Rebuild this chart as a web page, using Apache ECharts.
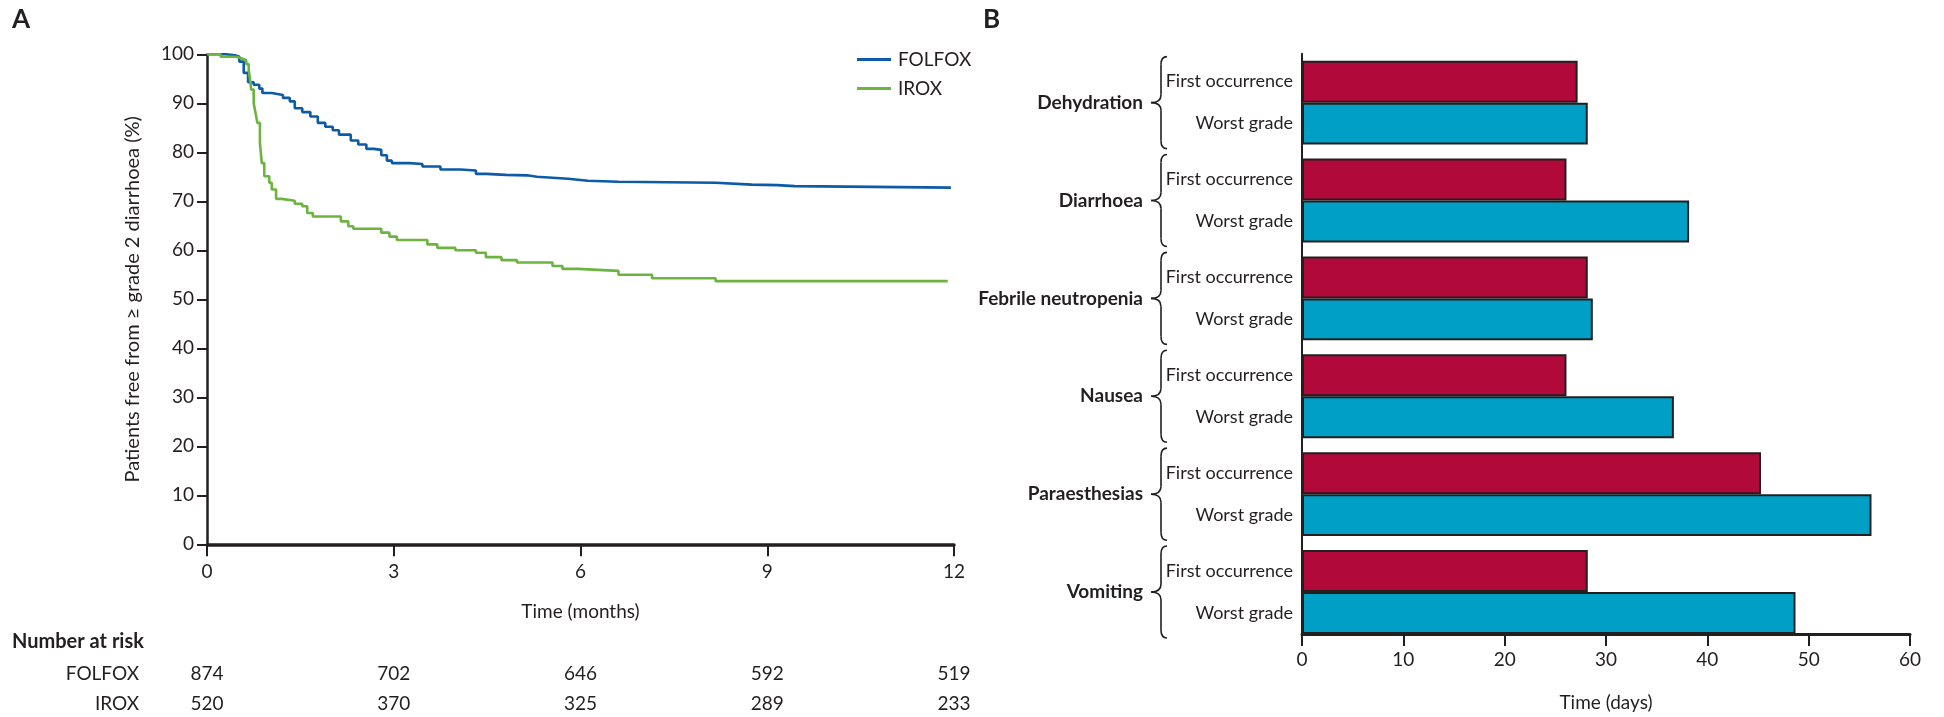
<!DOCTYPE html>
<html><head><meta charset="utf-8">
<script src="https://cdn.jsdelivr.net/npm/echarts@6/dist/echarts.min.js"></script>
<style>html,body{margin:0;padding:0;background:#fff}#c{width:1944px;height:717px}</style>
</head><body><div id="c"></div>
<script>
// ---- Panel A data (Kaplan-Meier) ----
const folfoxTime = [0, 0.3, 0.45, 0.52, 0.59, 0.66, 0.75, 0.84, 0.89, 1.04, 1.22, 1.33, 1.41, 1.53, 1.66, 1.78, 1.9, 2.02, 2.12, 2.31, 2.43, 2.56, 2.68, 2.8, 2.89, 2.97, 3.25, 3.46, 3.75, 4.07, 4.32, 4.48, 4.8, 5.14, 5.3, 5.8, 6.12, 6.61, 8.17, 8.75, 9.16, 9.44, 11.95];
const folfoxSurv = [100, 99.8, 99.5, 98.5, 96.2, 94.3, 93.8, 93, 92.1, 91.7, 91.1, 90.4, 89.0, 88.2, 87.3, 86.0, 85.2, 84.5, 83.6, 82.4, 81.6, 80.7, 80.5, 79.4, 78.3, 77.8, 77.6, 77.1, 76.5, 76.3, 75.6, 75.4, 75.3, 75.0, 74.6, 74.2, 74.0, 73.8, 73.4, 73.3, 73.1, 72.8, 72.8];
const iroxTime = [0, 0.22, 0.47, 0.55, 0.63, 0.67, 0.69, 0.71, 0.75, 0.78, 0.81, 0.85, 0.88, 0.92, 1.0, 1.04, 1.11, 1.2, 1.41, 1.53, 1.61, 1.7, 2.15, 2.27, 2.35, 2.8, 2.93, 3.05, 3.54, 3.7, 3.99, 4.32, 4.48, 4.73, 4.98, 5.55, 5.71, 5.96, 6.61, 7.15, 8.17, 11.9];
const iroxSurv = [100, 99.5, 99.2, 98.8, 98, 96.9, 95, 92.8, 90, 88, 86, 81.9, 77.8, 75.1, 73.8, 72.4, 70.5, 70.1, 69.5, 69, 67.6, 66.9, 65.9, 64.9, 64.4, 63.6, 62.8, 62.1, 61.2, 60.5, 60, 59.5, 58.6, 58, 57.5, 56.8, 56.2, 55.8, 55, 54.3, 53.7, 53.7];
const riskTimes = [0, 3, 6, 9, 12];
const folfoxRisk = [874, 702, 646, 592, 519];
const iroxRisk = [520, 370, 325, 289, 233];

// ---- Panel B data ----
const categories = ['Dehydration', 'Diarrhoea', 'Febrile neutropenia', 'Nausea', 'Paraesthesias', 'Vomiting'];
const firstOccurrence = [27.2, 26.1, 28.2, 26.1, 45.3, 28.2];
const worstGrade = [28.2, 38.2, 28.7, 36.7, 56.2, 48.7];

const INK = '#231f20';
const FONT = 'Lato, "Liberation Sans", sans-serif';

const chart = echarts.init(document.getElementById('c'), null, {renderer: 'canvas'});

function zip(a, b) { return a.map((v, i) => [v, b[i]]); }

const option = {
  animation: false,
  backgroundColor: '#fff',
  textStyle: {fontFamily: FONT, color: INK},
  grid: [
    {left: 207, top: 54.3, width: 747, height: 490},
    {left: 1302, top: 53.7, width: 608, height: 588}
  ],
  legend: {
    data: ['FOLFOX', 'IROX'], orient: 'vertical', left: 857, top: 50, padding: 0,
    itemWidth: 34, itemHeight: 3, itemGap: 10, icon: 'rect',
    textStyle: {fontFamily: FONT, fontSize: 19, color: INK, padding: [0, 0, 0, 2]}
  },
  xAxis: [
    {gridIndex: 0, type: 'value', min: 0, max: 12, interval: 3,
     axisLine: {show: true, onZero: false, lineStyle: {color: INK, width: 3.5}},
     axisTick: {show: true, length: 12, lineStyle: {color: INK, width: 2}},
     axisLabel: {margin: 18, fontFamily: FONT, fontSize: 19, color: INK},
     splitLine: {show: false},
     name: 'Time (months)', nameLocation: 'middle', nameGap: 58,
     nameTextStyle: {fontFamily: FONT, fontSize: 19, color: INK}},
    {gridIndex: 1, type: 'value', min: 0, max: 60, interval: 10, offset: -7,
     axisLine: {show: true, onZero: false, lineStyle: {color: INK, width: 3}},
     axisTick: {show: true, length: 12, lineStyle: {color: INK, width: 2}},
     axisLabel: {margin: 16, fontFamily: FONT, fontSize: 19, color: INK},
     splitLine: {show: false},
     name: 'Time (days)', nameLocation: 'middle', nameGap: 59,
     nameTextStyle: {fontFamily: FONT, fontSize: 19, color: INK}}
  ],
  yAxis: [
    {gridIndex: 0, type: 'value', min: 0, max: 100, interval: 10,
     axisLine: {show: true, lineStyle: {color: INK, width: 2.5}},
     axisTick: {show: true, length: 10, lineStyle: {color: INK, width: 2}},
     axisLabel: {margin: 13, fontFamily: FONT, fontSize: 19, color: INK},
     splitLine: {show: false},
     name: 'Patients free from \u2265 grade 2 diarrhoea (%)', nameLocation: 'middle', nameGap: 64, nameRotate: 90,
     nameTextStyle: {fontFamily: FONT, fontSize: 20, color: INK}},
    {gridIndex: 1, type: 'category', data: categories, inverse: true,
     axisLine: {show: true, lineStyle: {color: INK, width: 2}},
     axisTick: {show: false},
     axisLabel: {margin: 159, fontFamily: FONT, fontWeight: 'bold', fontSize: 19, color: INK}}
  ],
  series: [
    {name: 'FOLFOX', type: 'line', xAxisIndex: 0, yAxisIndex: 0, step: 'end', showSymbol: false,
     symbol: 'none', color: '#0d5aa7', lineStyle: {color: '#0d5aa7', width: 2.6}, data: zip(folfoxTime, folfoxSurv)},
    {name: 'IROX', type: 'line', xAxisIndex: 0, yAxisIndex: 0, step: 'end', showSymbol: false,
     symbol: 'none', color: '#6db33f', lineStyle: {color: '#6db33f', width: 2.6}, data: zip(iroxTime, iroxSurv)},
    {name: 'First occurrence', type: 'bar', xAxisIndex: 1, yAxisIndex: 1, barGap: '0%', barCategoryGap: '14.3%',
     itemStyle: {color: '#b0093a', borderColor: INK, borderWidth: 2},
     label: {show: true, position: 'left', distance: 9, formatter: 'First occurrence', fontFamily: FONT, fontSize: 18, color: INK},
     data: firstOccurrence},
    {name: 'Worst grade', type: 'bar', xAxisIndex: 1, yAxisIndex: 1, barGap: '0%', barCategoryGap: '14.3%',
     itemStyle: {color: '#00a0c6', borderColor: INK, borderWidth: 2},
     label: {show: true, position: 'left', distance: 9, formatter: 'Worst grade', fontFamily: FONT, fontSize: 18, color: INK},
     data: worstGrade}
  ]
};
chart.setOption(option);

// ---- decorations positioned through the chart's own scales ----
const g = [];
function txt(text, x, y, align, size, weight) {
  g.push({type: 'text', x: x, y: y, silent: true,
    style: {text: text, fill: INK, fontSize: size, fontWeight: weight || 'normal', fontFamily: FONT,
      align: align, verticalAlign: 'middle', textAlign: align, textVerticalAlign: 'middle'}});
}
txt('A', 12, 20, 'left', 26, 'bold');
txt('B', 983, 20, 'left', 26, 'bold');

// Number at risk table
txt('Number at risk', 12, 642, 'left', 20, 'bold');
txt('FOLFOX', 139, 674, 'right', 19);
txt('IROX', 139, 704, 'right', 19);
riskTimes.forEach((t, i) => {
  const x = chart.convertToPixel({xAxisIndex: 0}, t);
  txt(String(folfoxRisk[i]), x, 674, 'center', 19);
  txt(String(iroxRisk[i]), x, 704, 'center', 19);
});

// Curly braces for each category group
const c0 = chart.convertToPixel({yAxisIndex: 1}, categories[0]);
const c1 = chart.convertToPixel({yAxisIndex: 1}, categories[1]);
const band = Math.abs(c1 - c0);
const braceStyle = {stroke: INK, lineWidth: 1.6, fill: null};
function curve(x1, y1, cx, cy, x2, y2) {
  g.push({type: 'bezierCurve', silent: true, shape: {x1: x1, y1: y1, cpx1: cx, cpy1: cy, x2: x2, y2: y2}, style: braceStyle});
}
function seg(x1, y1, x2, y2) {
  g.push({type: 'line', silent: true, shape: {x1: x1, y1: y1, x2: x2, y2: y2}, style: braceStyle});
}
categories.forEach((cat) => {
  const ym = chart.convertToPixel({yAxisIndex: 1}, cat);
  const half = band * 0.47;
  const y0 = ym - half, y1 = ym + half;
  const cx = 1161, tip = 1151, hook = 1167, r = 8;
  curve(hook, y0, cx, y0, cx, y0 + r);
  seg(cx, y0 + r, cx, ym - r);
  curve(cx, ym - r, cx, ym, tip, ym);
  curve(tip, ym, cx, ym, cx, ym + r);
  seg(cx, ym + r, cx, y1 - r);
  curve(cx, y1 - r, cx, y1, hook, y1);
});
chart.setOption({graphic: g});
</script>
</body></html>
